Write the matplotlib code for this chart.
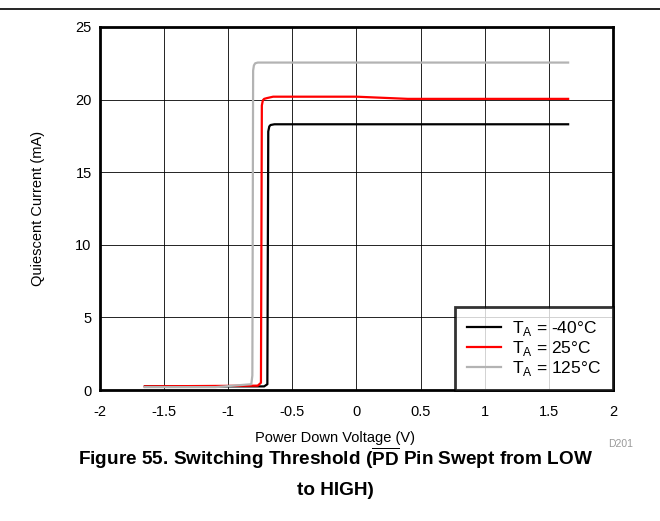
import matplotlib.pyplot as plt
from matplotlib.lines import Line2D

plt.rcParams['font.family'] = ['Liberation Sans', 'DejaVu Sans']
plt.rcParams['mathtext.fontset'] = 'custom'
plt.rcParams['mathtext.rm'] = 'Liberation Sans'
plt.rcParams['mathtext.bf'] = 'Liberation Sans:bold'

# T = -40 C
x_m40 = [-1.65, -0.72, -0.695, -0.688, -0.68, -0.67, -0.64, 1.65]
y_m40 = [0.25, 0.25, 0.4, 17.8, 18.15, 18.25, 18.3, 18.3]
# T = 25 C
x_25 = [-1.65, -0.77, -0.745, -0.738, -0.73, -0.72, -0.70, -0.65, 0.0, 0.4, 1.65]
y_25 = [0.25, 0.3, 0.5, 19.6, 19.95, 20.05, 20.1, 20.2, 20.2, 20.05, 20.05]
# T = 125 C
x_125 = [-1.65, -1.1, -0.82, -0.812, -0.806, -0.80, -0.79, -0.77, 1.65]
y_125 = [0.2, 0.2, 0.4, 1.0, 22.0, 22.35, 22.5, 22.55, 22.55]

labels = [r'T$_\mathregular{A}$ = -40°C', r'T$_\mathregular{A}$ = 25°C', r'T$_\mathregular{A}$ = 125°C']
colors = ['#000000', '#ff0000', '#b3b3b3']

fig = plt.figure(figsize=(6.6, 5.21), dpi=100)
ax = fig.add_axes([0.1515, 0.2514, 0.7773, 0.6968])

for xs, ys, c, lab in zip([x_m40, x_25, x_125], [y_m40, y_25, y_125], colors, labels):
    ax.plot(xs, ys, color=c, lw=1.6, label=lab)

ax.set_xlim(-2, 2)
ax.set_ylim(0, 25)
ax.set_xticks([-2, -1.5, -1, -0.5, 0, 0.5, 1, 1.5, 2])
ax.set_xticklabels(['-2', '-1.5', '-1', '-0.5', '0', '0.5', '1', '1.5', '2'])
ax.set_yticks([0, 5, 10, 15, 20, 25])
ax.grid(True, color='black', lw=0.6)
ax.set_axisbelow(True)
ax.tick_params(length=0, labelsize=10.5, pad=6)
ax.tick_params(axis='x', pad=11)
for s in ax.spines.values():
    s.set_linewidth(2)

ax.set_xlabel('Power Down Voltage (V)', fontsize=10.5)
ax.xaxis.set_label_coords(0.458, -0.113)
ax.set_ylabel('Quiescent Current (mA)', fontsize=10.5, labelpad=22)

leg = ax.legend(loc='lower right', fontsize=12.5, frameon=True, fancybox=False,
                borderaxespad=0, handlelength=2.0, labelspacing=0.05,
                borderpad=0.7, handletextpad=0.6)
leg.get_frame().set_edgecolor('black')
leg.get_frame().set_linewidth(2)

fig.add_artist(Line2D([0, 1], [0.983, 0.983], color='black', lw=1.2))
fig.text(0.94, 0.148, 'D201', fontsize=7.5, color='#999999', ha='center', va='center')
fig.text(0.508, 0.094,
         r'Figure 55. Switching Threshold ($\mathbf{\overline{PD}}$ Pin Swept from LOW' + '\nto HIGH)',
         fontsize=13.7, fontweight='bold', ha='center', va='center', linespacing=1.8)

fig.savefig('out.png', dpi=100)
